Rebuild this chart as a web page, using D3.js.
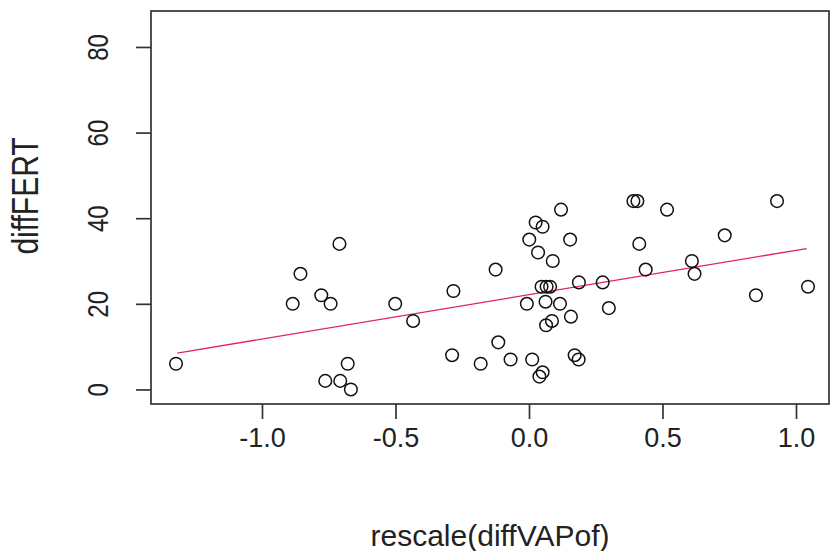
<!DOCTYPE html>
<html lang="en">
<head>
    <meta charset="UTF-8">
    <title>diffFERT vs rescale(diffVAPof)</title>
    <style>
      body { margin: 0; background: #fff; }
      svg text { font-family: "Liberation Sans", Arial, sans-serif; fill: #222; }
    </style>
</head>
<body>
    <svg></svg>
    <script src="https://d3js.org/d3.v7.min.js"></script>
    <script>
      // points
      const xs = [-1.322, -0.885, -0.856, -0.778, -0.743, -0.710, -0.763, -0.707, -0.679, -0.667,
                  -0.501, -0.434, -0.288, -0.283, -0.181, -0.125, -0.115, -0.069, -0.008, 0.001,
                  0.012, 0.025, 0.039, 0.051, 0.051, 0.034, 0.047, 0.066, 0.079, 0.062,
                  0.064, 0.086, 0.089, 0.116, 0.120, 0.154, 0.157, 0.171, 0.186, 0.187,
                  0.276, 0.299, 0.391, 0.406, 0.413, 0.437, 0.517, 0.610, 0.620, 0.733,
                  0.850, 0.929, 1.045]
      const ys = [6, 20, 27, 22, 20, 34, 2, 2, 6, 0,
                  20, 16, 8, 23, 6, 28, 11, 7, 20, 35,
                  7, 39, 3, 4, 38, 32, 24, 24, 24, 20.5,
                  15, 16, 30, 20, 42, 35, 17, 8, 7, 25,
                  25, 19, 44, 44, 34, 28, 42, 30, 27, 36,
                  22, 44, 24]

      // fitted line end points
      const lineX = [-1.317, 1.04]
      const lineY = [8.5, 32.9]

      const xTicks = [-1, -0.5, 0, 0.5, 1]
      const xTickLabels = ["-1.0", "-0.5", "0.0", "0.5", "1.0"]
      const yTicks = [0, 20, 40, 60, 80]
      const yTickLabels = ["0", "20", "40", "60", "80"]

      const width = 831;
      const height = 551;
      const box = {left: 151, right: 829, top: 11, bottom: 404};

      const svg = d3.select('svg').attr('width', width).attr('height', height)

      const xScale = d3.scaleLinear()
          .domain([-1.4157, 1.1236])
          .range([box.left, box.right])

      const yScale = d3.scaleLinear()
          .domain([-3.4, 88.4])
          .range([box.bottom, box.top])

      // plot frame
      svg.append("rect")
          .attr("x", box.left).attr("y", box.top)
          .attr("width", box.right - box.left).attr("height", box.bottom - box.top)
          .attr("fill", "none").attr("stroke", "#333").attr("stroke-width", 1.7)

      const xAxis = g => g
          .attr("transform", `translate(0,${box.bottom})`)
          .call(d3.axisBottom(xScale).tickValues(xTicks)
              .tickFormat((d, i) => xTickLabels[i]).tickSize(15).tickPadding(9))
          .call(g => g.select(".domain").remove())

      const yAxis = g => g
          .attr("transform", `translate(${box.left},0)`)
          .call(d3.axisLeft(yScale).tickValues(yTicks)
              .tickFormat((d, i) => yTickLabels[i]).tickSize(15))
          .call(g => g.select(".domain").remove())

      const gx = svg.append("g").attr("class", "x-axis").call(xAxis)
      gx.selectAll("line").attr("stroke", "#333").attr("stroke-width", 1.7)
      gx.selectAll("text")
          .attr("font-size", 27).attr("fill", "#222")
          .attr("font-family", "Liberation Sans, Arial, sans-serif")

      const gy = svg.append("g").attr("class", "y-axis").call(yAxis)
      gy.selectAll("line").attr("stroke", "#333").attr("stroke-width", 1.7)
      gy.selectAll("text")
          .attr("font-size", 24).attr("fill", "#222")
          .attr("font-family", "Liberation Sans, Arial, sans-serif")
          .attr("text-anchor", "middle")
          .attr("x", null).attr("dy", null)
          .attr("transform", "translate(-43,0) scale(1.2,1) rotate(-90)")

      svg.append("text")
          .attr("x", (box.left + box.right) / 2).attr("y", 546)
          .attr("text-anchor", "middle").attr("font-size", 30)
          .text("rescale(diffVAPof)")

      svg.append("text")
          .attr("transform", `translate(38,196) scale(1.2,1) rotate(-90)`)
          .attr("text-anchor", "middle").attr("font-size", 30)
          .text("diffFERT")

      svg.append("line")
          .attr("x1", xScale(lineX[0])).attr("y1", yScale(lineY[0]))
          .attr("x2", xScale(lineX[1])).attr("y2", yScale(lineY[1]))
          .attr("stroke", "#e0245a").attr("stroke-width", 1.3)

      svg.append("g")
          .attr("fill", "none").attr("stroke", "#111").attr("stroke-width", 1.5)
        .selectAll("circle")
        .data(xs.map((x, i) => [x, ys[i]]))
        .join("circle")
          .attr("cx", d => xScale(d[0]))
          .attr("cy", d => yScale(d[1]))
          .attr("r", 6.3)
    </script>
</body>
</html>
